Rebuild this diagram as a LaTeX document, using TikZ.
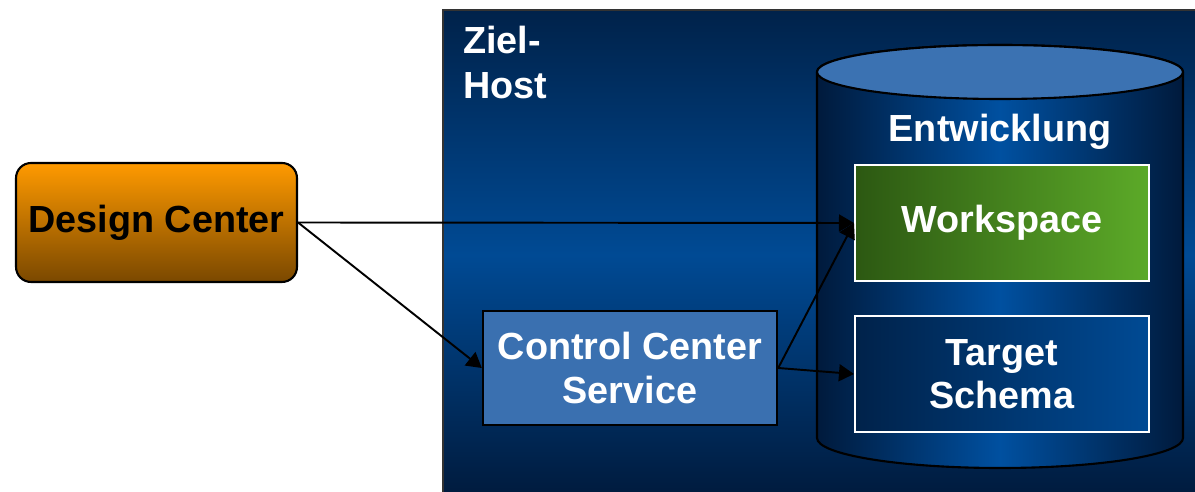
\documentclass[tikz,border=0pt]{standalone}
\usepackage{fontspec}
\setmainfont{Liberation Sans}
\usetikzlibrary{arrows.meta}
\definecolor{navydark}{HTML}{00224A}
\definecolor{navymid}{HTML}{004A94}
\definecolor{navydeep}{HTML}{001A3C}
\definecolor{cylblue}{HTML}{0050A0}
\definecolor{capblue}{HTML}{3B72B2}
\definecolor{svcblue}{HTML}{3A70B0}
\definecolor{wsdark}{HTML}{2C5812}
\definecolor{wslight}{HTML}{5CAA28}
\definecolor{orangetop}{HTML}{FF9A00}
\definecolor{orangebot}{HTML}{7A4800}
\tikzset{
  x=0.02cm, y=-0.02cm,
  bigtext/.style={font=\bfseries\fontsize{21.5}{23.5}\selectfont, text=white, align=center},
  dcbox/.style={draw=black, line width=1.2pt, rounded corners=0.3cm,
    top color=orangetop, bottom color=orangebot,
    minimum width=5.62cm, minimum height=2.38cm,
    font=\bfseries\fontsize{21.5}{23.5}\selectfont, text=black},
  storebox/.style={draw=white, line width=1.2pt,
    minimum width=5.88cm, minimum height=2.32cm, bigtext},
  svcbox/.style={draw=black, line width=1.4pt, fill=svcblue,
    minimum width=5.88cm, minimum height=2.28cm, bigtext},
  flow/.style={draw=black, line width=1.1pt,
    -{Triangle[length=0.3cm, width=0.34cm]}}
}
\begin{document}
\begin{tikzpicture}
\useasboundingbox (0,0) rectangle (1195,492);
\fill[white] (0,0) rectangle (1195,492);

% target host frame
\shade[top color=navydark, bottom color=navydeep, middle color=navymid]
  (443,10) rectangle (1200,500);
\draw[black!80, line width=1pt] (443,500) -- (443,10) -- (1200,10);
\node[bigtext, align=left, anchor=north west, inner sep=0pt] (hostlabel)
  at (463,26) {Ziel-\\[2pt]Host};

% development repository cylinder (y axis points down, so arcs run the other way)
\shade[left color=navydeep, right color=navydeep, middle color=cylblue,
       draw=black, line width=1.2pt]
  (817,72) -- (817,438) arc[start angle=180, end angle=0, x radius=183, y radius=30]
  -- (1183,72) arc[start angle=0, end angle=-180, x radius=183, y radius=27];
\draw[black, line width=1.2pt, fill=capblue]
  (1000,72) ellipse[x radius=183, y radius=27];
\node[bigtext] (entw) at (1000,132) {Entwicklung};

% stores inside the repository
\node[storebox, left color=wsdark, right color=wslight] (ws) at (1002,223) {Workspace};
\node[storebox, left color=navydark, right color=navymid] (ts) at (1002,374) {Target\\[1pt]Schema};

% clients and services
\node[dcbox] (dc) at (156.5,222.5) {Design Center};
\node[svcbox] (ccs) at (630,368) {Control Center\\[1pt]Service};

% connections
\draw[flow] (dc.east) -- (ws.west);
\draw[flow] (dc.east) -- (ccs.west);
\draw[flow] (ccs.east) -- (ws.west);
\draw[flow] (ccs.east) -- (ts.west);
\end{tikzpicture}
\end{document}
